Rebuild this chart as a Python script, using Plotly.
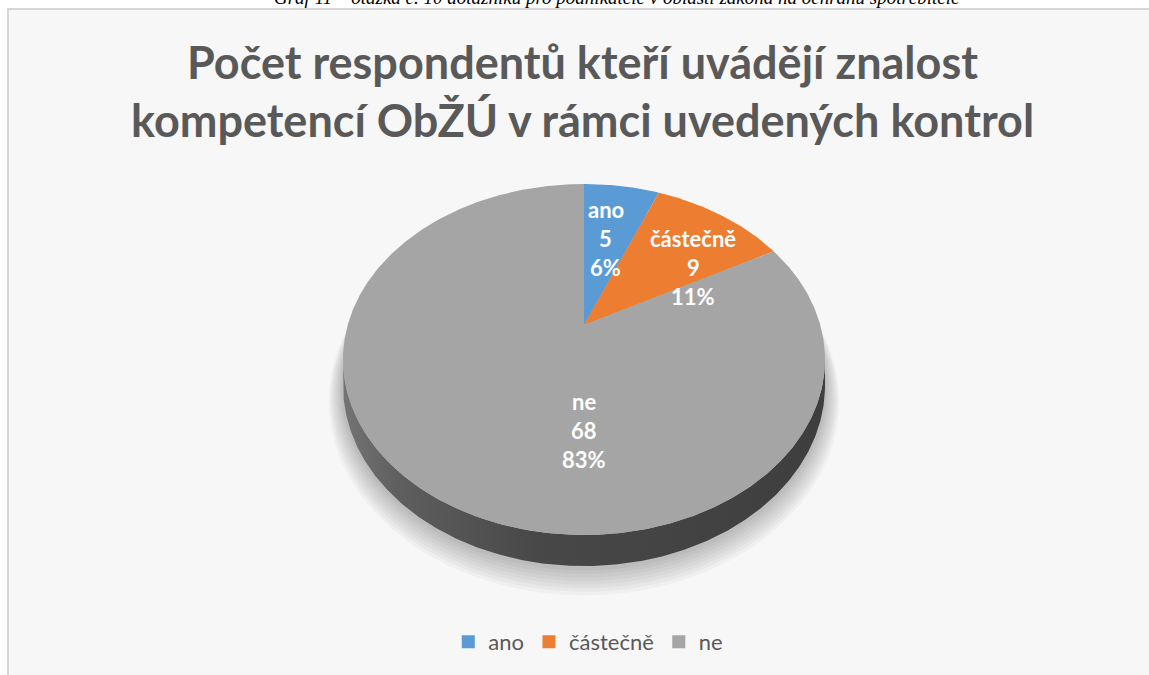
import numpy as np
import plotly.graph_objects as go

# ---------------- data ----------------
categories = ["ano", "částečně", "ne"]
counts = [5, 9, 68]
percent_labels = ["6%", "11%", "83%"]
title_lines = ["Počet respondentů kteří uvádějí znalost",
               "kompetencí ObŽÚ v rámci uvedených kontrol"]
caption = "Graf 11 – otázka č. 10 dotazníku pro podnikatele v oblasti zákona na ochranu spotřebitele"

# ---------------- style ----------------
W, H = 1149, 675
colors = ["#5B9BD5", "#ED7D31", "#A5A5A5"]
CX, CY = 584.0, 325.0          # pie apex on screen
R, B, K = 236.3, 168.7, 0.1966  # perspective projection of the tilted disc
DEPTH = 25.0                    # thickness of the 3D side
# label anchors in pie coordinates (angle clockwise from 12 o'clock, radius fraction)
label_anchor = {"ano": (10.2, 0.583), "částečně": (53.3, 0.617), "ne": (180.0, 0.559)}
label_line_gap = 29
title_y = [62, 120]
font_main = "Lato"
txt_gray = "#595959"


def proj(theta_deg, rho, drop=0.0):
    t = np.radians(theta_deg)
    u = rho * np.sin(t)
    v = rho * np.cos(t)
    den = 1 + K * v
    return CX + R * u / den, CY - B * v / den + drop / den


fig = go.Figure()

# frame of the chart area
fig.add_shape(type="rect", x0=8, y0=9, x1=W + 20, y1=H + 20,
              line=dict(color="#d6d6d6", width=2), fillcolor="#f7f7f7", layer="below")

# soft shadow under the disc
th_full = np.linspace(0, 360, 361)
for i in range(8):
    sx, sy = proj(th_full, 1.0 + 0.007 * (i + 1), DEPTH + 2 + 1.3 * i)
    fig.add_trace(go.Scatter(x=sx, y=sy, mode="lines", fill="toself",
                             fillcolor="rgba(0,0,0,0.03)", line=dict(width=0),
                             hoverinfo="skip", showlegend=False))

# side of the disc (visible front part)
th_r = np.degrees(np.arctan2(np.sqrt(1 - K * K), -K))
th_l = 360 - th_r
th_side = np.linspace(th_r, th_l, 300)
tx, ty = proj(th_side, 1.0)
bx, by = proj(th_side[::-1], 1.0, DEPTH)
fig.add_trace(go.Scatter(
    x=np.concatenate([tx, bx]), y=np.concatenate([ty, by]),
    mode="lines", fill="toself", line=dict(width=0),
    fillgradient=dict(type="horizontal",
                      colorscale=[[0, "#747474"], [0.12, "#5e5e5e"], [0.4, "#484848"], [1, "#3e3e3e"]]),
    hoverinfo="skip", showlegend=False))

# top faces of the slices
total = sum(counts)
start = 0.0
for cat, val, col in zip(categories, counts, colors):
    span = 360.0 * val / total
    th = np.linspace(start, start + span, max(int(span * 2), 4))
    ax_, ay_ = proj(th, 1.0)
    xs = np.concatenate([[CX], ax_, [CX]])
    ys = np.concatenate([[CY], ay_, [CY]])
    fig.add_trace(go.Scatter(x=xs, y=ys, mode="lines", fill="toself", fillcolor=col,
                             line=dict(width=0), name=cat, hoverinfo="skip", showlegend=False))
    start += span

# data labels
for cat, val, pct in zip(categories, counts, percent_labels):
    ang, rho = label_anchor[cat]
    lx, ly = proj(ang, rho)
    for j, line in enumerate([cat, str(val), pct]):
        fig.add_annotation(x=float(lx), y=float(ly) + (j - 1) * label_line_gap, text=line,
                           showarrow=False, xanchor="center", yanchor="middle",
                           font=dict(family=font_main, size=22, color="white", weight="bold"))

# title
for line, yy in zip(title_lines, title_y):
    fig.add_annotation(x=W / 2 + 8, y=yy, text=line, showarrow=False,
                       xanchor="center", yanchor="middle",
                       font=dict(family=font_main, size=45, color=txt_gray, weight="bold"))

# legend entries
for cat, col in zip(categories, colors):
    fig.add_trace(go.Scatter(x=[None], y=[None], mode="markers", name=cat,
                             marker=dict(symbol="square", size=13, color=col)))

# caption (cut at the top edge, as in the source page)
fig.add_annotation(x=617, y=9, text=caption, showarrow=False, xanchor="center", yanchor="bottom",
                   borderpad=0,
                   font=dict(family="Liberation Serif", size=19, color="black", style="italic"))

fig.update_layout(
    width=W, height=H,
    margin=dict(l=0, r=0, t=0, b=0),
    paper_bgcolor="white", plot_bgcolor="rgba(0,0,0,0)",
    xaxis=dict(range=[0, W], visible=False, fixedrange=True),
    yaxis=dict(range=[H, 0], visible=False, fixedrange=True),
    legend=dict(orientation="h", x=0.512, xanchor="center", y=1 - 642 / H, yanchor="middle",
                font=dict(family=font_main, size=22, color=txt_gray),
                bgcolor="rgba(0,0,0,0)", itemclick=False, itemdoubleclick=False),
    showlegend=True,
)

fig.write_html("out.html", config={"displayModeBar": False},
               post_script="document.body.style.margin='0';document.body.style.overflow='hidden';")
